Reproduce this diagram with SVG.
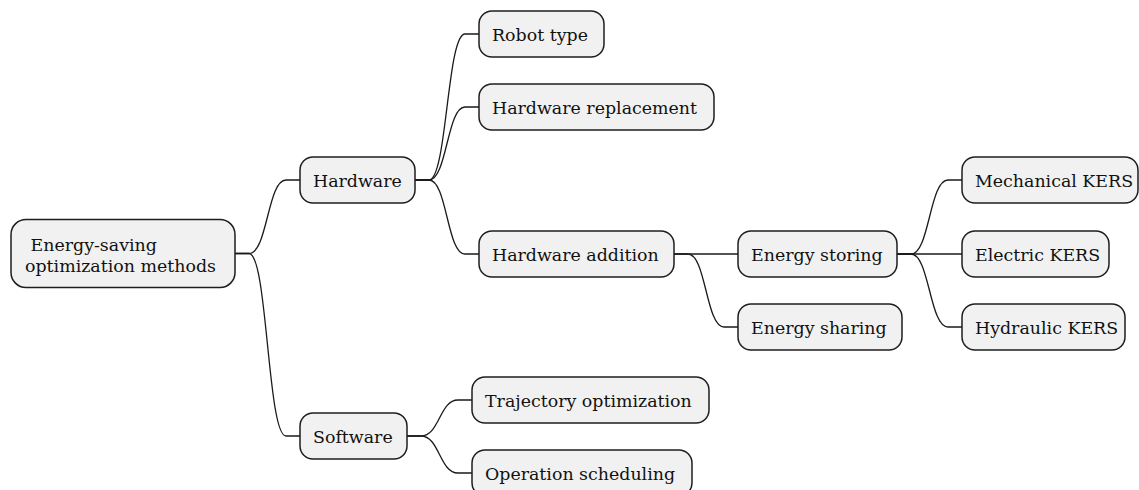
<svg xmlns="http://www.w3.org/2000/svg" width="1139" height="490" viewBox="0 0 1139 490">
  <style>
    .node rect { fill: #f1f1f1; stroke: #1e1e1e; stroke-width: 1.5; }
    .node text { font-family: "DejaVu Serif", "Liberation Serif", serif; font-size: 17.4px; fill: #111; }
    #connectors path { fill: none; stroke: #1a1a1a; stroke-width: 1.3; }
  </style>
  <rect width="1139" height="490" fill="#ffffff"/>

  <!-- connectors: short stub out of the parent, S-curve, short stub into the child -->
  <g id="connectors">
    <path d="M235,253.5 H249 C267.5,253.5 267.5,180 286,180 H300"/>
    <path d="M235,253.5 H249 C267.5,253.5 267.5,436 286,436 H300"/>
    <path d="M415,180 H429 C447,180 447,34 465,34 H479"/>
    <path d="M415,180 H429 C447,180 447,107 465,107 H479"/>
    <path d="M415,180 H429 C447,180 447,254 465,254 H479"/>
    <path d="M674,254 H738"/>
    <path d="M674,254 H688 C706,254 706,327 724,327 H738"/>
    <path d="M897,254 H911 C929.5,254 929.5,180 948,180 H962"/>
    <path d="M897,254 H962"/>
    <path d="M897,254 H911 C929.5,254 929.5,327 948,327 H962"/>
    <path d="M407,436 H421 C439.5,436 439.5,400 458,400 H472"/>
    <path d="M407,436 H421 C439.5,436 439.5,473 458,473 H472"/>
  </g>

  <!-- root -->
  <g id="root" class="node">
    <rect x="11" y="219.5" width="224" height="68" rx="15"/>
    <text x="30.5" y="251">Energy-saving</text>
    <text x="25" y="271.5">optimization methods</text>
  </g>

  <!-- first level -->
  <g id="hardware" class="node">
    <rect x="300" y="157" width="115" height="46" rx="13"/>
    <text x="313" y="186.5">Hardware</text>
  </g>
  <g id="software" class="node">
    <rect x="300" y="413" width="107" height="46" rx="13"/>
    <text x="313" y="442.5">Software</text>
  </g>

  <!-- hardware branch -->
  <g id="robot-type" class="node">
    <rect x="479" y="11" width="125" height="46" rx="13"/>
    <text x="492" y="40.5">Robot type</text>
  </g>
  <g id="hardware-replacement" class="node">
    <rect x="479" y="84" width="235" height="46" rx="13"/>
    <text x="492" y="113.5">Hardware replacement</text>
  </g>
  <g id="hardware-addition" class="node">
    <rect x="479" y="231" width="195" height="46" rx="13"/>
    <text x="492" y="260.5">Hardware addition</text>
  </g>
  <g id="energy-storing" class="node">
    <rect x="738" y="231" width="159" height="46" rx="13"/>
    <text x="751" y="260.5">Energy storing</text>
  </g>
  <g id="energy-sharing" class="node">
    <rect x="738" y="304" width="164" height="46" rx="13"/>
    <text x="751" y="333.5">Energy sharing</text>
  </g>
  <g id="mechanical-kers" class="node">
    <rect x="962" y="157" width="176" height="46" rx="13"/>
    <text x="975" y="186.5">Mechanical KERS</text>
  </g>
  <g id="electric-kers" class="node">
    <rect x="962" y="231" width="147" height="46" rx="13"/>
    <text x="975" y="260.5">Electric KERS</text>
  </g>
  <g id="hydraulic-kers" class="node">
    <rect x="962" y="304" width="163" height="46" rx="13"/>
    <text x="975" y="333.5">Hydraulic KERS</text>
  </g>

  <!-- software branch -->
  <g id="trajectory-optimization" class="node">
    <rect x="472" y="377" width="237" height="46" rx="13"/>
    <text x="485" y="406.5">Trajectory optimization</text>
  </g>
  <g id="operation-scheduling" class="node">
    <rect x="472" y="450" width="220" height="46" rx="13"/>
    <text x="485" y="479.5">Operation scheduling</text>
  </g>
</svg>
